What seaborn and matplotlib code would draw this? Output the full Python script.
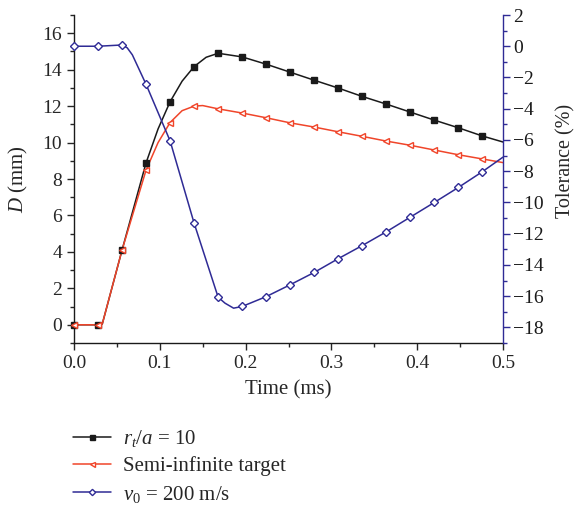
import numpy as np
import pandas as pd
import matplotlib
matplotlib.use("Agg")
import matplotlib.pyplot as plt
from matplotlib.lines import Line2D
from matplotlib.ticker import MultipleLocator
import seaborn as sns

# ---- data ----
time_ms = [0.000, 0.028, 0.056, 0.084, 0.112, 0.140, 0.168, 0.196, 0.224,
           0.252, 0.280, 0.308, 0.336, 0.364, 0.392, 0.420, 0.448, 0.476]
d_rt10 = [0.0, 0.0, 4.10, 8.89, 12.24, 14.17, 14.90, 14.70, 14.30,
          13.86, 13.42, 12.99, 12.53, 12.11, 11.67, 11.23, 10.81, 10.36]
d_semi = [0.0, 0.0, 4.10, 8.49, 11.10, 12.00, 11.85, 11.62, 11.36,
          11.08, 10.85, 10.59, 10.34, 10.08, 9.85, 9.59, 9.33, 9.10]
tol_v200 = [0.0, 0.0, 0.08, -2.44, -6.06, -11.33, -16.07, -16.66, -16.03,
            -15.27, -14.48, -13.60, -12.76, -11.88, -10.94, -10.00, -9.04, -8.03]

# extra points of the drawn curves (no markers)
rt10_curve_t = [0.033, 0.098, 0.126, 0.154, 0.500]
rt10_curve_v = [0.05, 10.75, 13.37, 14.68, 10.03]
semi_curve_t = [0.033, 0.098, 0.126, 0.150, 0.500]
semi_curve_v = [0.05, 10.00, 11.75, 12.03, 8.90]
v200_curve_t = [0.062, 0.068, 0.176, 0.186, 0.500]
v200_curve_v = [-0.10, -0.55, -16.45, -16.77, -7.10]

labels = [r"$r_t/a$ = 10", "Semi-infinite target", r"$v_0$ = 200 m/s"]

BLACK = "#1a1a1a"
RED = "#f0452a"
BLUE = "#2f2b95"

sns.set_style("ticks")
plt.rcParams["font.family"] = ["Liberation Serif", "DejaVu Serif"]
plt.rcParams["mathtext.fontset"] = "custom"
plt.rcParams["mathtext.rm"] = "Liberation Serif"
plt.rcParams["mathtext.it"] = "Liberation Serif:italic"
plt.rcParams["font.size"] = 14

fig = plt.figure(figsize=(5.8, 5.12), dpi=100)
ax = fig.add_axes([74/580, 1-343/512, (503-74)/580, (343-15)/512])
ax2 = ax.twinx()


def curve(t, v, et, ev):
    df = pd.DataFrame({"t": list(t) + list(et), "v": list(v) + list(ev)})
    return df.sort_values("t")


specs = [
    (ax, d_rt10, rt10_curve_t, rt10_curve_v, BLACK, "s", BLACK),
    (ax, d_semi, semi_curve_t, semi_curve_v, RED, "<", "white"),
    (ax2, tol_v200, v200_curve_t, v200_curve_v, BLUE, "D", "white"),
]
handles = []
for a, vals, et, ev, col, mk, mfc in specs:
    df = curve(time_ms, vals, et, ev)
    sns.lineplot(data=df, x="t", y="v", ax=a, color=col, lw=1.1, sort=False,
                 estimator=None)
    a.plot(time_ms, vals, linestyle="none", marker=mk, ms=4.2 if mk != "D" else 3.6,
           mfc=mfc, mec=col, mew=1.0, clip_on=False, zorder=5)
    handles.append(Line2D([], [], color=col, lw=1.1, marker=mk,
                          ms=3.6 if mk != "D" else 3.2, mfc=mfc, mec=col, mew=1.0))

ax.set_xlim(0, 0.5)
ax.set_ylim(-1, 17)
ax2.set_ylim(-19, 2)
ax.set_xticks(np.arange(0, 0.51, 0.1))
ax.set_xticklabels([f"{v:.1f}" for v in np.arange(0, 0.51, 0.1)])
ax.xaxis.set_minor_locator(MultipleLocator(0.05))
ax.set_yticks(np.arange(0, 17, 2))
ax.yaxis.set_minor_locator(MultipleLocator(1))
ax2.set_yticks(np.arange(-18, 3, 2))
ax2.set_yticklabels([f"{v}".replace("-", "\u2212") for v in range(-18, 3, 2)])
ax2.yaxis.set_minor_locator(MultipleLocator(1))

for a in (ax, ax2):
    a.spines["top"].set_visible(False)
    a.tick_params(which="major", direction="out", length=5, width=1, labelsize=14)
    a.tick_params(which="minor", direction="out", length=3, width=1)
ax.spines["right"].set_visible(False)
ax2.spines["left"].set_visible(False)
ax2.spines["bottom"].set_visible(False)
ax2.spines["right"].set_color(BLUE)
ax2.tick_params(axis="y", which="both", colors=BLUE, labelcolor="#1a1a1a", pad=2.5)
for sp in ("left", "bottom"):
    ax.spines[sp].set_color(BLACK)
    ax.spines[sp].set_linewidth(1)
ax2.spines["right"].set_linewidth(1)

ax.set_xlabel("Time (ms)", fontsize=15, labelpad=6)
ax.set_ylabel(r"$D$ (mm)", fontsize=15, labelpad=9)
ax2.set_ylabel("Tolerance (%)", fontsize=14.5)
ax2.yaxis.set_label_coords(1.124, 0.555)

fig.legend(handles, labels, loc="upper left", bbox_to_anchor=(0.126, 0.164),
           frameon=False, fontsize=15, handlelength=1.8, handletextpad=0.6,
           labelspacing=0.35, borderaxespad=0, borderpad=0)

fig.savefig("out.png", dpi=100)
